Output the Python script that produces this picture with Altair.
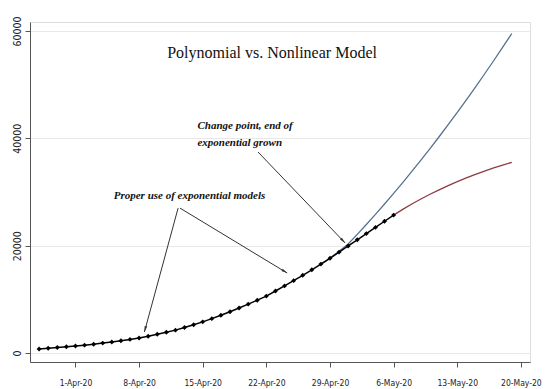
import math
import altair as alt
import pandas as pd

# ---------------- data ----------------
obs_dates = pd.date_range("2020-03-28", "2020-05-06", freq="D")
obs_values = [750, 880, 1010, 1150, 1300, 1460, 1640, 1840, 2050, 2280,
              2530, 2800, 3130, 3480, 3860, 4260, 4760, 5260, 5800, 6400,
              7030, 7690, 8380, 9100, 9840, 10600, 11550, 12500, 13480, 14480,
              15500, 16560, 17650, 18800, 19950, 21100, 22250, 23400, 24550, 25700]

poly_dates = pd.date_range("2020-04-28", "2020-05-19", freq="D")
poly_values = [16560, 17700, 18950, 20300, 22100, 23940, 25830, 27760, 29740, 31760,
               33830, 35940, 38100, 40300, 42550, 44840, 47180, 49560, 51990, 54460,
               56980, 59540]

nl_dates = pd.date_range("2020-05-06", "2020-05-19", freq="D")
nl_values = [25700, 26760, 27760, 28700, 29580, 30410, 31190, 31930, 32630, 33290,
             33910, 34490, 35030, 35530]

x_tick_dates = ["2020-04-01", "2020-04-08", "2020-04-15", "2020-04-22",
                "2020-04-29", "2020-05-06", "2020-05-13", "2020-05-20"]
y_ticks = [0, 20000, 40000, 60000]

chart_title = "Polynomial vs. Nonlinear Model"
label_texts = ["Change point, end of", "exponential grown", "Proper use of exponential models"]
label_dates = ["2020-04-14T10:00", "2020-04-14T10:00", "2020-04-05T05:00"]
label_values = [42300, 39100, 29250]

arrow_from_dates = ["2020-04-21T02:00", "2020-04-12T07:00", "2020-04-12T12:00"]
arrow_from_values = [37450, 27000, 27000]
arrow_to_dates = ["2020-04-30T16:00", "2020-04-08T14:00", "2020-04-24T07:00"]
arrow_to_values = [20500, 3900, 14900]

# ---------------- layout ----------------
W, H = 500, 340
X0, X1 = pd.Timestamp("2020-03-27"), pd.Timestamp("2020-05-21")
Y0, Y1 = -1680, 61680


def px(t):
    return (pd.Timestamp(t) - X0) / (X1 - X0) * W


def py(v):
    return H - (v - Y0) / (Y1 - Y0) * H


obs = pd.DataFrame({"date": obs_dates, "value": obs_values})
poly = pd.DataFrame({"date": poly_dates, "value": poly_values})
nl = pd.DataFrame({"date": nl_dates, "value": nl_values})

angles = []
for fd, fv, td, tv in zip(arrow_from_dates, arrow_from_values, arrow_to_dates, arrow_to_values):
    dx = px(td) - px(fd)
    dy = py(tv) - py(fv)
    a = math.degrees(math.atan2(dx, -dy)) % 360
    angles.append(a)
arrows = pd.DataFrame({
    "x": pd.to_datetime(arrow_from_dates), "y": arrow_from_values,
    "x2": pd.to_datetime(arrow_to_dates), "y2": arrow_to_values,
    "angle": angles,
})
labels = pd.DataFrame({"date": pd.to_datetime(label_dates), "value": label_values,
                       "text": label_texts})
title_df = pd.DataFrame({"date": [pd.Timestamp("2020-04-22T15:00")], "value": [55900],
                         "text": [chart_title]})

AXFONT = "DejaVu Sans Condensed, Liberation Sans Narrow, sans-serif"
SERIF = "Liberation Serif, Times New Roman, serif"

xscale = alt.Scale(domain=[alt.DateTime(year=2020, month=3, date=27),
                           alt.DateTime(year=2020, month=5, date=21)])
yscale = alt.Scale(domain=[Y0, Y1], nice=False, zero=False)

x_ticks = [alt.DateTime(year=int(d[:4]), month=int(d[5:7]), date=int(d[8:10])) for d in x_tick_dates]

xaxis = alt.Axis(values=x_ticks, format="%-d-%b-%y", title=None, grid=False,
                 tickSize=5, labelPadding=11, labelFont=AXFONT, labelFontSize=8.5,
                 labelColor="#222", domainColor="#555", tickColor="#555",
                 labelFlush=False, labelOverlap=False)
yaxis = alt.Axis(values=y_ticks, format="d", title=None, grid=True, gridColor="#e8e8e8",
                 tickSize=5, labelAngle=270, labelAlign="center", labelBaseline="bottom",
                 labelPadding=3, labelFont=AXFONT, labelFontSize=10.5, labelColor="#222",
                 domainColor="#555", tickColor="#555")

X = alt.X("date:T", scale=xscale, axis=xaxis)
Y = alt.Y("value:Q", scale=yscale, axis=yaxis)

blue = alt.Chart(poly).mark_line(color="#56718f", strokeWidth=1.3).encode(x=X, y=Y)
red = alt.Chart(nl).mark_line(color="#8e3b40", strokeWidth=1.3).encode(x="date:T", y="value:Q")
obs_line = alt.Chart(obs).mark_line(color="black", strokeWidth=1.5).encode(x="date:T", y="value:Q")
obs_pts = alt.Chart(obs).mark_point(filled=True, color="black", size=24, shape="diamond",
                                    opacity=1).encode(x="date:T", y="value:Q")

arrow_lines = alt.Chart(arrows).mark_rule(color="#333", strokeWidth=1).encode(
    x="x:T", y="y:Q", x2="x2:T", y2="y2:Q")
arrow_heads = alt.Chart(arrows).mark_point(
    shape="M0,0L-0.45,2L0.45,2Z", filled=True, color="#333", size=36, opacity=1
).encode(x="x2:T", y="y2:Q", angle=alt.Angle("angle:Q", scale=None))

ann = alt.Chart(labels).mark_text(font=SERIF, fontSize=11, fontStyle="italic",
                                  fontWeight="bold", align="left", baseline="middle",
                                  color="#111").encode(x="date:T", y="value:Q", text="text:N")
ttl = alt.Chart(title_df).mark_text(font=SERIF, fontSize=16, align="center",
                                    baseline="middle", color="#111").encode(
    x="date:T", y="value:Q", text="text:N")

chart = alt.layer(blue, red, obs_line, obs_pts, arrow_lines, arrow_heads, ann, ttl).properties(
    width=W, height=H,
    autosize=alt.AutoSizeParams(type="none"),
    padding={"left": 22, "top": 14, "right": 12, "bottom": 26},
).configure_view(stroke=None).configure(background="white")

chart.save("out.html", embed_options={"renderer": "svg", "actions": False})
